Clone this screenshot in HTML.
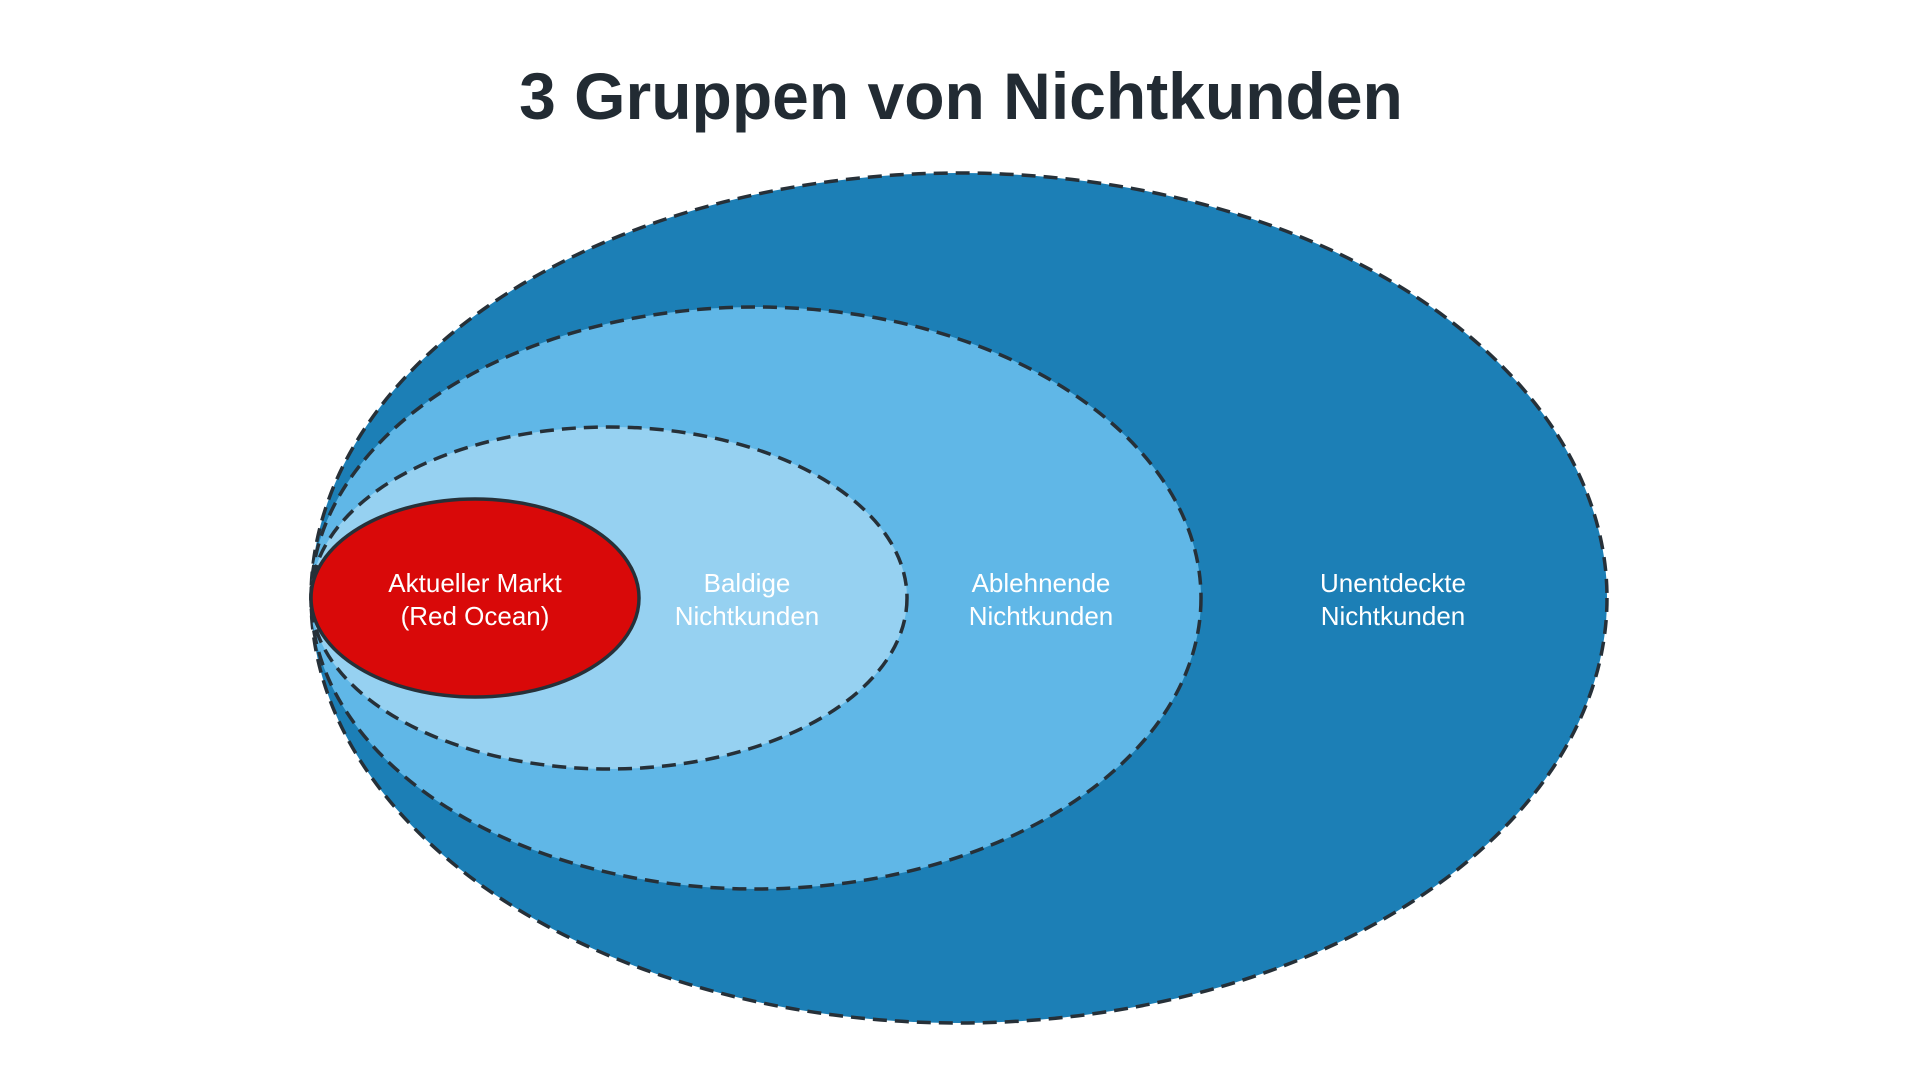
<!DOCTYPE html>
<html><head><meta charset="utf-8"><style>
html,body{margin:0;padding:0;background:#fff;}
svg{display:block;}
</style></head><body>
<svg width="1920" height="1080" viewBox="0 0 1920 1080" xmlns="http://www.w3.org/2000/svg">
<text x="961" y="119" text-anchor="middle" font-family="Liberation Sans, sans-serif" font-weight="bold" font-size="66" fill="#222b33">3 Gruppen von Nichtkunden</text>
<g stroke="#263038" stroke-width="3.5" stroke-dasharray="14 8">
<ellipse cx="959" cy="598" rx="648" ry="425" fill="#1c7fb6"/>
<ellipse cx="756" cy="598" rx="445" ry="291" fill="#60b7e7"/>
<ellipse cx="609" cy="598" rx="298" ry="171" fill="#96d1f1"/>
</g>
<ellipse cx="475" cy="598" rx="164" ry="99" fill="#d90909" stroke="#263038" stroke-width="3.5"/>
<g font-family="Liberation Sans, sans-serif" font-size="26" fill="#fff" text-anchor="middle">
<text x="475" y="592">Aktueller Markt</text><text x="475" y="625">(Red Ocean)</text>
<text x="747" y="592">Baldige</text><text x="747" y="625">Nichtkunden</text>
<text x="1041" y="592">Ablehnende</text><text x="1041" y="625">Nichtkunden</text>
<text x="1393" y="592">Unentdeckte</text><text x="1393" y="625">Nichtkunden</text>
</g>
</svg>
</body></html>
